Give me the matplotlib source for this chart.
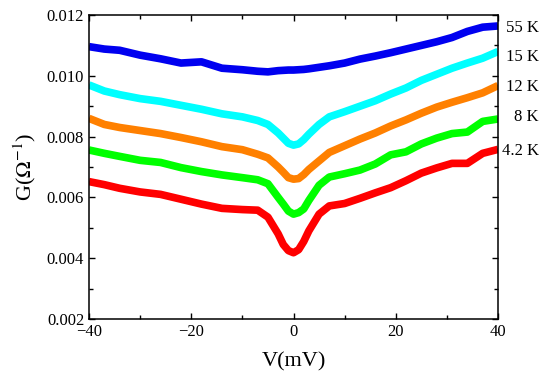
import numpy as np
import matplotlib.pyplot as plt
from matplotlib.ticker import MultipleLocator

plt.rcParams['font.family'] = 'Liberation Serif'
plt.rcParams['mathtext.fontset'] = 'stix'

# Bias voltage grid (mV)
V = [-40, -37, -34, -30, -26, -22, -18, -14, -10, -7, -5, -3, -2, -1, 0,
     1, 2, 3, 5, 7, 10, 13, 16, 19, 22, 25, 28, 31, 34, 37, 40]

# Conductance curves (1/Ohm)
G_55K = [0.01096, 0.01088, 0.01084, 0.01068, 0.01056, 0.01042, 0.01046, 0.01025,
         0.01020, 0.01015, 0.01013, 0.01017, 0.01018, 0.01019, 0.01019, 0.01020,
         0.01021, 0.01023, 0.01028, 0.01033, 0.01042, 0.01055, 0.01065, 0.01076,
         0.01088, 0.01100, 0.01112, 0.01126, 0.01146, 0.01160, 0.01164]
G_15K = [0.00970, 0.00950, 0.00938, 0.00925, 0.00916, 0.00903, 0.00890, 0.00875,
         0.00865, 0.00853, 0.00840, 0.00812, 0.00795, 0.00778, 0.00772, 0.00776,
         0.00790, 0.00808, 0.00840, 0.00865, 0.00882, 0.00900, 0.00918, 0.00940,
         0.00960, 0.00985, 0.01005, 0.01025, 0.01042, 0.01058, 0.01080]
G_12K = [0.00860, 0.00840, 0.00830, 0.00820, 0.00810, 0.00797, 0.00783, 0.00767,
         0.00757, 0.00742, 0.00730, 0.00700, 0.00683, 0.00665, 0.00660, 0.00662,
         0.00675, 0.00692, 0.00720, 0.00748, 0.00770, 0.00792, 0.00812, 0.00835,
         0.00855, 0.00877, 0.00897, 0.00913, 0.00928, 0.00944, 0.00968]
G_8K = [0.00756, 0.00745, 0.00735, 0.00722, 0.00715, 0.00698, 0.00685, 0.00674,
        0.00665, 0.00658, 0.00645, 0.00600, 0.00578, 0.00555, 0.00545, 0.00550,
        0.00562, 0.00590, 0.00640, 0.00667, 0.00678, 0.00690, 0.00710, 0.00740,
        0.00750, 0.00776, 0.00795, 0.00810, 0.00815, 0.00850, 0.00858]
G_4K = [0.00652, 0.00642, 0.00630, 0.00618, 0.00610, 0.00594, 0.00578, 0.00564,
        0.00560, 0.00558, 0.00535, 0.00480, 0.00445, 0.00425, 0.00418, 0.00428,
        0.00455, 0.00490, 0.00545, 0.00572, 0.00580, 0.00597, 0.00615, 0.00632,
        0.00655, 0.00680, 0.00697, 0.00712, 0.00712, 0.00745, 0.00758]

labels = ['55 K', '15 K', '12 K', '8 K', '4.2 K']
label_y = [0.01157, 0.01062, 0.00963, 0.00864, 0.00753]
colors = ['#0000f0', '#00ffff', '#ff8000', '#00ff00', '#ff0000']

fig = plt.figure(figsize=(5.5, 3.88), dpi=100)
ax = fig.add_axes([0.1618, 0.1778, 0.7437, 0.7835])

for G, c in zip([G_55K, G_15K, G_12K, G_8K, G_4K], colors):
    ax.plot(V, G, color=c, linewidth=5.5, solid_joinstyle='round', solid_capstyle='butt')

for lab, yy in zip(labels, label_y):
    ax.text(1.1, yy, lab, transform=ax.get_yaxis_transform(), ha='right', va='center',
            fontsize=12)

ax.set_xlim(-40, 40)
ax.set_ylim(0.002, 0.012)
ax.xaxis.set_major_locator(MultipleLocator(20))
ax.xaxis.set_minor_locator(MultipleLocator(10))
ax.yaxis.set_major_locator(MultipleLocator(0.002))
ax.yaxis.set_minor_locator(MultipleLocator(0.001))
ax.yaxis.set_major_formatter(plt.FuncFormatter(lambda v, p: f'{v:.3f}'))
ax.tick_params(which='both', direction='in', top=True, right=True, labelsize=12, width=1)
ax.tick_params(which='major', length=4)
ax.tick_params(which='minor', length=3)
for s in ax.spines.values():
    s.set_linewidth(1.1)

ax.set_xlabel('V(mV)', fontsize=16, labelpad=9)
ax.set_ylabel(r'G($\Omega^{-1}$)', fontsize=16, labelpad=6)

plt.savefig('out.png', dpi=100)
